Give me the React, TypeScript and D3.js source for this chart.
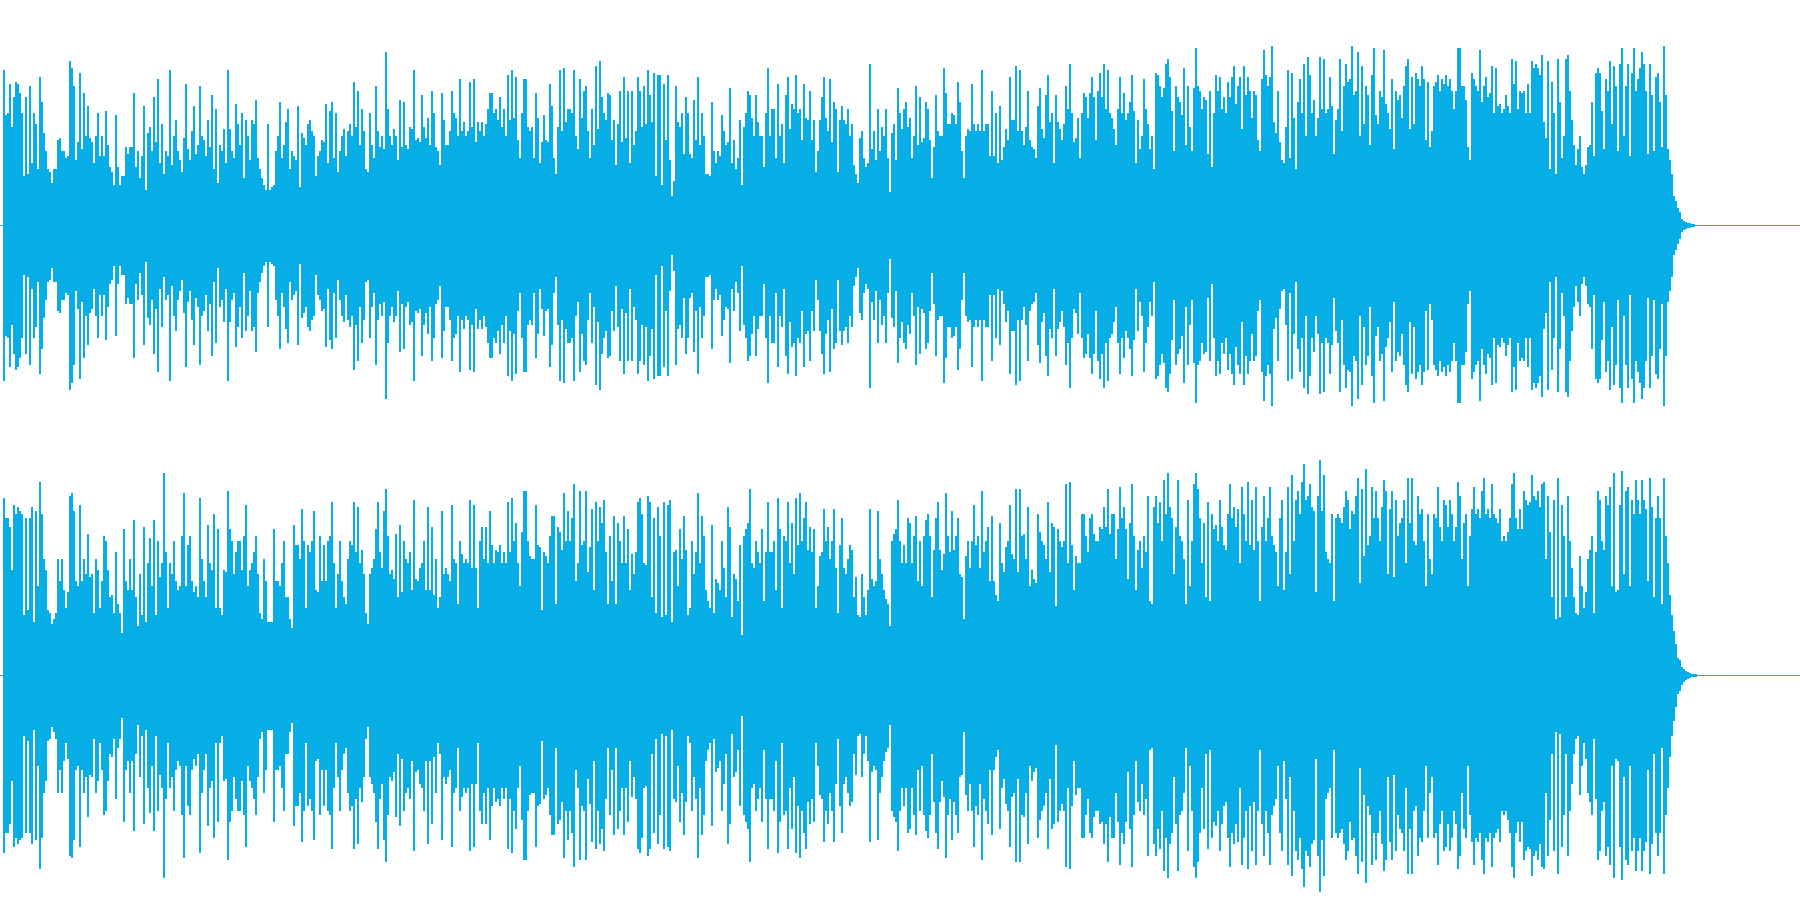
import React from "react";
import * as d3 from "d3";

// Peak amplitude per 2px column, percent of half-channel full scale.
const channelOne = [
69,49,50,63,44,57,64,63,59,50,22,57,23,62,28,50,45,25,66,55,41,33,25,24,19,
25,25,38,39,33,33,30,31,73,70,62,29,37,68,34,59,40,53,39,37,28,40,50,31,40,
31,51,36,26,24,18,49,26,18,22,22,35,32,35,35,59,26,33,21,31,53,16,41,44,33,
57,37,65,28,45,23,33,31,69,27,40,47,33,29,24,39,63,34,29,42,53,32,36,62,40,
38,31,47,35,58,25,52,19,36,33,43,28,69,43,33,30,54,45,36,50,21,47,40,29,47,
45,56,30,25,21,18,16,45,16,17,18,33,40,55,30,36,46,52,25,33,31,29,53,17,41,
39,36,45,47,42,40,22,31,33,38,37,54,28,51,55,30,50,24,33,40,43,31,42,45,40,
64,44,60,36,52,42,25,24,50,36,30,62,42,35,40,34,77,52,40,36,43,40,29,56,35,
55,36,34,44,43,69,38,39,37,58,44,39,48,36,60,50,35,33,27,59,47,36,36,42,60,
50,48,40,65,42,46,40,42,64,44,65,37,46,42,46,40,45,52,59,59,50,52,47,57,44,
52,40,67,47,69,48,66,38,30,50,65,65,44,42,44,30,59,48,28,37,49,38,37,63,53,
30,23,44,69,42,70,46,52,52,50,69,40,34,65,48,60,62,42,30,52,36,71,43,73,57,
50,47,59,58,38,47,27,45,60,37,66,39,60,28,60,36,42,66,60,44,62,45,69,58,46,
68,22,67,67,18,63,38,67,29,13,20,62,46,44,50,32,57,50,32,30,56,38,66,36,50,
40,23,23,22,55,33,28,33,31,49,42,36,37,61,28,38,25,30,47,18,44,50,60,58,48,
40,58,46,40,40,26,50,70,40,52,52,30,63,40,45,28,58,66,43,54,52,67,50,52,38,
63,48,47,60,38,47,24,33,47,57,66,48,42,65,37,55,52,24,47,53,47,45,52,40,45,
27,23,19,39,42,30,26,28,72,34,42,29,52,33,44,40,52,30,15,41,45,29,61,50,43,
52,55,44,48,30,40,62,36,57,37,39,55,52,38,21,35,58,42,40,40,70,59,45,45,50,
49,45,64,55,33,21,40,43,42,63,45,42,45,42,69,42,45,45,31,60,31,50,28,53,29,
35,43,38,66,47,47,71,42,69,42,36,44,60,38,35,34,30,53,61,43,39,58,67,46,50,
28,58,46,43,38,45,62,52,72,50,37,39,48,30,50,59,57,48,59,66,57,38,60,68,57,
72,52,69,50,48,43,36,52,66,50,59,47,50,55,67,51,28,47,34,40,65,52,45,34,40,
25,68,67,62,57,61,72,74,66,51,33,62,57,55,49,70,36,62,44,33,61,79,62,60,52,
57,56,32,60,26,50,67,60,66,52,57,50,64,57,66,71,54,62,66,43,71,58,66,60,48,
60,58,38,33,65,78,67,62,66,80,46,41,60,37,29,28,44,69,30,68,48,25,55,65,50,
72,40,75,67,50,56,40,48,75,52,74,50,52,66,53,32,47,52,74,42,62,72,64,65,80,
58,60,77,40,71,45,62,58,36,67,79,49,45,60,57,78,54,50,43,65,34,60,56,58,48,
62,71,74,43,66,45,68,65,62,71,65,38,64,35,42,62,64,67,60,65,63,67,62,65,60,
52,60,79,79,62,62,56,35,29,68,65,62,60,78,55,62,66,57,59,71,50,70,53,54,50,
52,58,53,50,74,63,73,52,60,59,60,50,63,50,73,70,72,70,67,76,46,39,73,25,64,
50,23,74,55,30,40,74,76,60,47,36,27,34,40,26,23,27,35,36,55,31,68,70,68,51,
34,65,60,73,45,71,62,33,72,79,40,62,72,31,68,79,60,65,70,77,72,60,32,72,58,
33,66,68,55,35,80,58,34,29,23,13,11,8,6,3,2,1.5,1,1,0.7,0.5,
];

const channelTwo = [
79,70,70,66,47,76,72,75,73,72,27,70,29,70,75,24,73,40,86,72,52,47,29,28,23,
25,28,52,42,52,38,30,37,80,81,73,42,40,76,42,52,45,63,44,45,28,52,47,30,42,
62,60,47,35,36,28,55,32,28,19,65,42,38,52,38,69,35,22,45,27,66,24,50,61,40,
69,27,60,44,50,90,55,30,50,45,60,42,38,40,62,81,40,58,62,42,37,40,35,79,52,
42,35,67,50,47,72,30,65,30,27,47,46,82,65,60,45,55,60,60,47,62,76,40,47,50,
55,62,45,28,25,52,42,24,24,24,65,42,42,40,50,60,35,35,25,21,67,58,58,52,74,
60,30,58,55,60,73,38,37,62,42,58,42,60,62,77,50,30,45,60,42,35,32,52,60,58,
77,55,75,50,56,45,28,23,45,48,52,65,77,55,48,73,83,62,45,47,43,63,35,67,37,
60,52,50,55,38,78,43,42,48,50,60,38,75,38,66,36,52,30,35,73,45,48,45,42,76,
52,50,32,60,54,50,52,50,78,48,76,48,30,60,66,52,66,50,73,58,50,56,55,58,50,
55,50,77,55,79,60,68,50,40,64,82,82,60,53,52,52,76,58,57,29,55,53,50,62,71,
71,32,66,64,56,81,60,73,60,70,85,42,50,82,58,60,82,46,57,74,38,77,60,75,68,
78,55,32,62,42,71,32,68,60,50,71,50,65,38,54,45,55,77,79,72,50,49,80,77,35,
70,28,75,62,26,77,27,76,78,24,55,56,40,65,52,71,56,27,30,60,45,55,81,50,71,
62,38,33,30,67,28,43,41,38,60,48,35,75,66,26,45,43,33,58,18,62,65,68,83,50,
48,60,55,50,65,33,55,77,55,55,60,38,79,65,30,62,60,77,50,68,45,79,58,81,60,
70,77,56,66,55,65,30,40,53,55,74,60,66,52,60,74,48,28,58,70,48,45,52,58,56,
35,44,27,26,45,35,27,38,74,43,40,42,73,52,45,38,34,32,22,60,63,65,78,60,50,
58,50,70,68,50,62,71,42,60,40,62,69,72,62,35,56,70,77,56,47,54,81,62,55,73,
56,62,70,45,44,25,53,60,48,60,76,58,62,48,82,55,60,66,42,71,42,36,33,68,50,
46,57,60,76,54,52,83,46,83,62,63,52,75,40,47,43,41,72,64,60,58,52,77,46,68,
66,31,65,60,57,60,85,50,86,58,38,53,50,50,72,72,62,55,70,72,63,60,60,66,65,
75,66,83,63,72,72,52,65,84,70,75,65,43,68,85,62,38,56,60,48,62,55,80,33,32,
75,80,68,77,60,87,72,90,75,70,45,66,87,62,60,52,32,78,40,60,85,90,83,70,50,
68,35,77,33,72,65,67,60,78,66,58,56,72,85,70,75,66,74,50,84,72,60,86,58,78,
56,84,60,33,66,80,60,70,84,62,58,55,40,70,78,38,55,84,45,89,60,78,82,72,86,
94,78,80,85,75,73,37,80,96,73,89,55,52,50,72,33,70,72,70,68,75,82,78,65,73,
72,80,88,41,83,53,92,58,62,84,70,82,70,60,75,87,82,45,74,82,44,78,62,68,70,
78,50,88,68,88,60,58,80,72,74,60,40,72,52,45,72,70,84,66,60,78,76,66,78,72,
60,66,86,80,52,68,72,40,62,74,84,72,74,70,82,88,72,74,70,85,72,70,68,74,60,
62,60,64,70,85,90,70,65,74,65,82,78,76,77,89,80,78,82,75,85,86,52,80,64,35,
78,25,88,26,76,62,35,80,60,48,35,28,27,53,40,30,37,52,56,62,28,55,82,78,60,
56,80,76,84,40,90,37,38,76,91,45,82,84,40,78,72,87,78,72,87,78,74,42,88,75,
35,70,80,70,32,88,62,50,36,27,20,14,8,7,4,3,2,1.5,1,0.8,0.6,0.5,
];

const WAVE_COLOR = "#06AEE5";

function Channel({ values, center, width }: { values: number[]; center: number; width: number }) {
  const x = d3.scaleLinear().domain([0, values.length]).range([3, 3 + values.length * 2]);
  const y = d3.scaleLinear().domain([-100, 100]).range([center + 225, center - 225]);
  const stepped = [...values, values[values.length - 1]];
  const area = d3
    .area<number>()
    .x((_, i) => x(i))
    .y0((v) => y(-v))
    .y1((v) => y(v))
    .curve(d3.curveStepAfter);
  return (
    <g>
      <rect x={0} y={Math.floor(center)} width={width} height={1} fill={WAVE_COLOR} />
      <path d={area(stepped) ?? ""} fill={WAVE_COLOR} shapeRendering="crispEdges" />
    </g>
  );
}

export default function App() {
  return (
    <svg
      width={1800}
      height={900}
      viewBox="0 0 1800 900"
      style={{ position: "fixed", left: 0, top: 0, background: "#fff", display: "block" }}
    >
      <rect width={1800} height={900} fill="#ffffff" />
      <Channel values={channelOne} center={225.5} width={1800} />
      <Channel values={channelTwo} center={675.5} width={1800} />
    </svg>
  );
}
